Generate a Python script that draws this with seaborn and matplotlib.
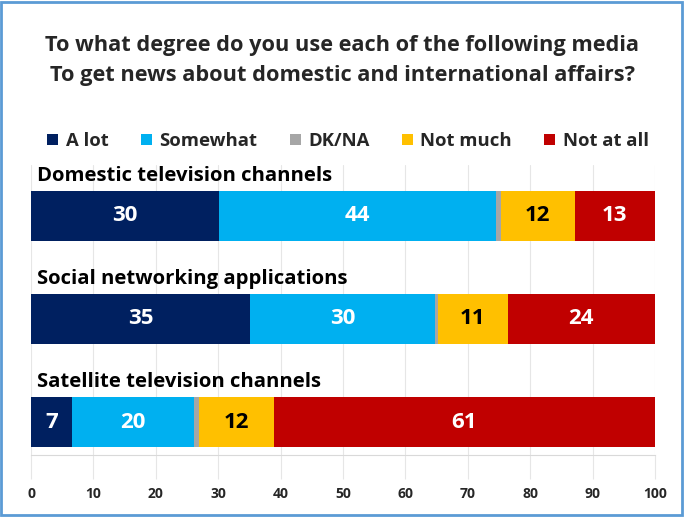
import matplotlib
matplotlib.use("Agg")
import matplotlib.pyplot as plt
import seaborn as sns
import pandas as pd
import numpy as np
from matplotlib.patches import Patch, Rectangle

# Data (labels show rounded values)
categories = ["Domestic television channels", "Social networking applications",
              "Satellite television channels"]
responses = ["A lot", "Somewhat", "DK/NA", "Not much", "Not at all"]
a_lot = [30.1, 35.1, 6.6]
somewhat = [44.4, 29.6, 19.6]
dk_na = [0.8, 0.5, 0.7]
not_much = [11.8, 11.2, 12.0]
not_at_all = [12.9, 23.6, 61.1]
ticks = [0, 10, 20, 30, 40, 50, 60, 70, 80, 90, 100]

colors = ["#002060", "#00B0F0", "#A6A6A6", "#FFC000", "#C00000"]
label_colors = ["white", "white", None, "black", "white"]

sns.set_style("white")
plt.rcParams["font.family"] = ["Open Sans", "DejaVu Sans"]
plt.rcParams["font.weight"] = "bold"

values = np.array([a_lot, somewhat, dk_na, not_much, not_at_all], dtype=float)
cum = values.cumsum(axis=0)

fig = plt.figure(figsize=(6.84, 5.17), dpi=100)
ax = fig.add_axes([31 / 684, 1 - 455 / 517, 624 / 684, 290 / 517])

# stacked bars: draw cumulative totals from the outermost layer inwards
for i in range(len(responses) - 1, -1, -1):
    df = pd.DataFrame({"category": categories, "value": cum[i]})
    sns.barplot(data=df, x="value", y="category", order=categories, orient="h",
                color=colors[i], width=0.48, saturation=1, ax=ax,
                edgecolor="none")

# value labels
for i, resp in enumerate(responses):
    if label_colors[i] is None:
        continue
    for j in range(len(categories)):
        v = values[i, j]
        center = cum[i, j] - v / 2
        ax.text(center, j, f"{round(v):d}", ha="center", va="center",
                color=label_colors[i], fontsize=16, fontweight="bold")

# category labels above bars
for j, cat in enumerate(categories):
    ax.text(1, j - 0.385, cat, ha="left", va="center", fontsize=14.6,
            fontweight="bold", color="black")

ax.set_xlim(0, 100)
ax.set_ylim(2 + 33 / 103, -51 / 103)
ax.set_xticks(ticks)
ax.set_xticklabels([str(t) for t in ticks], fontsize=10, fontweight="bold")
ax.set_yticks([])
ax.set_xlabel("")
ax.set_ylabel("")
ax.xaxis.grid(True, color="#E6E6E6", linewidth=0.8)
ax.set_axisbelow(True)
ax.tick_params(axis="x", length=17, color="#E6E6E6", pad=6, bottom=True)
for side in ["top", "left", "right"]:
    ax.spines[side].set_visible(False)
ax.spines["bottom"].set_color("#D9D9D9")

fig.text(0.5, 1 - 45 / 517, "To what degree do you use each of the following media",
         ha="center", va="center", fontsize=15.7, fontweight="bold")
fig.text(0.5, 1 - 75 / 517, "To get news about domestic and international affairs?",
         ha="center", va="center", fontsize=15.7, fontweight="bold")

handles = [Patch(facecolor=c, edgecolor="none") for c in colors]
fig.legend(handles, responses, loc="center", bbox_to_anchor=(348 / 684, 1 - 141 / 517),
           ncol=5, frameon=False, fontsize=13.3, handlelength=0.6,
           handleheight=0.6, handletextpad=0.4, columnspacing=1.75)

fig.patches.append(Rectangle((0.002, 0.003), 0.995, 0.994, transform=fig.transFigure,
                             fill=False, edgecolor="#5B9BD5", linewidth=2))

fig.savefig("out.png", dpi=100)
